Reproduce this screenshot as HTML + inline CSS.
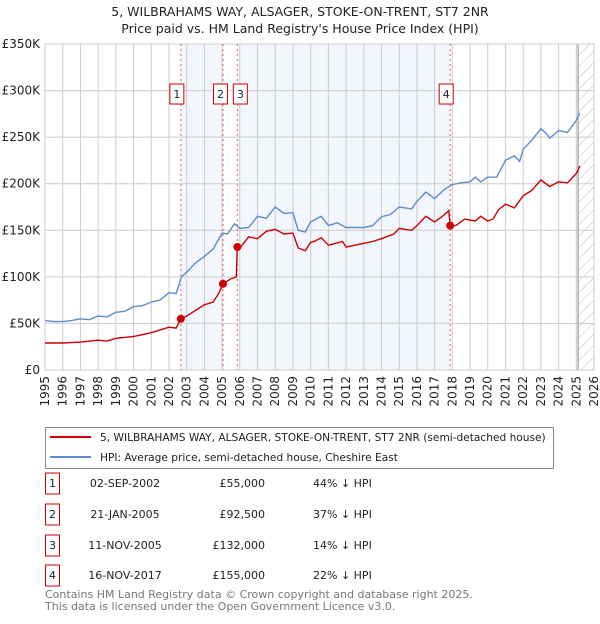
<!DOCTYPE html>
<html><head><meta charset="utf-8">
<style>
body{margin:0;background:#fff;font-family:"DejaVu Sans","Liberation Sans",sans-serif;}
svg text{font-family:"DejaVu Sans","Liberation Sans",sans-serif;}
</style></head>
<body>
<svg id="chart" width="600" height="620" xmlns="http://www.w3.org/2000/svg">
<defs>
<pattern id="hatch" patternUnits="userSpaceOnUse" width="8" height="8" patternTransform="rotate(45)">
<line x1="0" y1="0" x2="0" y2="8" stroke="#bbb" stroke-width="1"/>
</pattern>
</defs>
<text x="300" y="16" font-size="12.5" text-anchor="middle" fill="#222">5, WILBRAHAMS WAY, ALSAGER, STOKE-ON-TRENT, ST7 2NR</text>
<text x="300" y="33" font-size="12.5" text-anchor="middle" fill="#222">Price paid vs. HM Land Registry's House Price Index (HPI)</text>
<g id="plot"></g>
<g>
<rect x="45.5" y="427.5" width="508" height="41" fill="#fff" stroke="#888"/>
<line x1="50" y1="437" x2="91" y2="437" stroke="#cc0000" stroke-width="2"/>
<text x="100" y="441" font-size="10.6" fill="#222">5, WILBRAHAMS WAY, ALSAGER, STOKE-ON-TRENT, ST7 2NR (semi-detached house)</text>
<line x1="50" y1="457" x2="91" y2="457" stroke="#5b8ccf" stroke-width="2"/>
<text x="100" y="461" font-size="10.6" fill="#222">HPI: Average price, semi-detached house, Cheshire East</text>
</g>
<g id="table"></g>
<text x="45" y="598" font-size="11" fill="#777">Contains HM Land Registry data © Crown copyright and database right 2025.</text>
<text x="45" y="610" font-size="11" fill="#777">This data is licensed under the Open Government Licence v3.0.</text>
</svg>
<script>
const hpiYears=[1995,1995.5,1996,1996.5,1997,1997.5,1998,1998.5,1999,1999.5,2000,2000.5,2001,2001.5,2002,2002.4,2002.7,2003,2003.5,2004,2004.5,2005,2005.3,2005.7,2006,2006.5,2007,2007.5,2008,2008.5,2009,2009.3,2009.7,2010,2010.6,2011,2011.5,2012,2012.5,2013,2013.5,2014,2014.5,2015,2015.7,2016,2016.5,2017,2017.5,2018,2018.5,2019,2019.3,2019.6,2020,2020.5,2021,2021.5,2021.8,2022,2022.5,2023,2023.3,2023.5,2024,2024.5,2025,2025.2];
const hpiValues=[53000,52000,52000,53000,55000,54000,58000,57000,62000,63000,68000,69000,73000,75000,83000,82000,100000,105000,115000,122000,130000,147000,146000,157000,152000,153000,165000,163000,175000,168000,169000,150000,148000,159000,165000,155000,158000,153000,153000,153000,155000,164600,167000,175000,173000,181000,191000,184000,193000,199000,201000,202000,207000,202000,207000,207000,225000,230000,224000,237000,247000,259000,254000,249000,257000,255000,268000,276000];
const propYears=[1995,1996,1997,1998,1998.5,1999,2000,2001,2002,2002.4,2002.67,2003,2004,2004.5,2004.8,2005.05,2005.5,2005.8,2005.86,2006,2006.5,2007,2007.5,2008,2008.5,2009,2009.3,2009.7,2010,2010.2,2010.6,2011,2011.8,2012,2013,2013.5,2014,2014.7,2015,2015.7,2016,2016.5,2017,2017.5,2017.8,2017.88,2018.2,2018.7,2019.3,2019.6,2020,2020.3,2020.6,2021,2021.5,2022,2022.5,2023,2023.5,2024,2024.5,2025,2025.2];
const propValues=[29000,29000,30000,32000,31000,34000,36000,40000,46000,45000,55000,58000,70000,73000,82000,92500,98000,100000,132000,131000,143000,141000,149000,151000,146000,147000,131000,128000,137000,138000,142000,134000,138000,132000,136000,138000,141000,146000,152000,150000,155000,165000,159000,166000,171000,155000,155000,162000,160000,165000,160000,162000,172000,178000,174000,187000,193000,204000,197000,202000,201000,211000,219000];
const saleLabels=["1","2","3","4"];
const saleYears=[2002.67,2005.05,2005.86,2017.88];
const salePrices=[55000,92500,132000,155000];
const saleDates=["02-SEP-2002","21-JAN-2005","11-NOV-2005","16-NOV-2017"];
const salePriceText=["£55,000","£92,500","£132,000","£155,000"];
const saleHpiText=["44% ↓ HPI","37% ↓ HPI","14% ↓ HPI","22% ↓ HPI"];
const yTicks=[0,50000,100000,150000,200000,250000,300000,350000];
const yTickLabels=["£0","£50K","£100K","£150K","£200K","£250K","£300K","£350K"];
const xTicks=[1995,1996,1997,1998,1999,2000,2001,2002,2003,2004,2005,2006,2007,2008,2009,2010,2011,2012,2013,2014,2015,2016,2017,2018,2019,2020,2021,2022,2023,2024,2025,2026];

const NS="http://www.w3.org/2000/svg";
const L=45,R=594,T=44,B=370;
const xs=y=>L+(y-1995)/(2026-1995)*(R-L);
const ys=v=>B-v/350000*(B-T);
const plot=document.getElementById('plot');
function mk(tag,attrs,parent){const e=document.createElementNS(NS,tag);for(const k in attrs)e.setAttribute(k,attrs[k]);(parent||plot).appendChild(e);return e;}

[[0,1],[2,3]].forEach(([a,b])=>{
  const r=mk('rect',{x:xs(saleYears[a]),y:T,width:xs(saleYears[b])-xs(saleYears[a]),height:B-T,fill:'#eef2fc',opacity:0.7});
  
  
});
yTicks.forEach((v,i)=>{
  const g=mk('line',{x1:L,x2:R,y1:ys(v),y2:ys(v),stroke:'#cccccc','stroke-width':1});
  
  
  const t=mk('text',{x:L-5,y:ys(v)+4,'font-size':12,'text-anchor':'end',fill:'#222'});
  t.textContent=yTickLabels[i];
  
  
});
xTicks.forEach(yr=>{
  const g=mk('line',{x1:xs(yr),x2:xs(yr),y1:T,y2:B,stroke:'#cccccc','stroke-width':1});
  
  
  const t=mk('text',{x:0,y:0,'font-size':12,'text-anchor':'end',fill:'#222',transform:`translate(${xs(yr)+4},${B+6}) rotate(-90)`});
  t.textContent=yr;
  
  
});
const hx=xs(2025.1);
const h=mk('rect',{x:hx,y:T,width:R-hx,height:B-T,fill:'url(#hatch)'});


const hl=mk('line',{x1:hx,x2:hx,y1:T,y2:B,stroke:'#999','stroke-width':1.2});


mk('rect',{x:L,y:T,width:R-L,height:B-T,fill:'none',stroke:'#cccccc'});
saleYears.forEach(yr=>{
  const l=mk('line',{x1:xs(yr),x2:xs(yr),y1:T,y2:B,stroke:'#e06060','stroke-width':1,'stroke-dasharray':'2,3'});
  
  
});
const path=(xa,va)=>xa.map((x,i)=>(i?'L':'M')+xs(x).toFixed(1)+','+ys(va[i]).toFixed(1)).join('');
const hp=mk('path',{d:path(hpiYears,hpiValues),fill:'none',stroke:'#5b8ccf','stroke-width':1.4});


const pp=mk('path',{d:path(propYears,propValues),fill:'none',stroke:'#cc0000','stroke-width':1.4});


saleYears.forEach((yr,i)=>{
  const c=mk('circle',{cx:xs(yr),cy:ys(salePrices[i]),r:4,fill:'#cc0000'});
  
  
  const cx=xs(yr)-(i===1?2.5:i===2?-3:4);
  const b=mk('rect',{x:cx-7,y:84,width:14,height:20,fill:'#fff',stroke:'#cc0000'});
  
  
  const t=mk('text',{x:cx,y:98,'font-size':11,'text-anchor':'middle',fill:'#222'});
  t.textContent=saleLabels[i];
  
  
});
const tb=document.getElementById('table');
const rowY=[483,514,545,575];
saleLabels.forEach((lab,i)=>{
  const y=rowY[i];
  const b=mk('rect',{x:45.5,y:y-10,width:14,height:21,fill:'#fff',stroke:'#cc0000'},tb);
  
  
  const t0=mk('text',{x:52.5,y:y+4,'font-size':11,'text-anchor':'middle',fill:'#222'},tb);t0.textContent=lab;
  
  
  const t1=mk('text',{x:125,y:y+4,'font-size':11,'text-anchor':'middle',fill:'#222'},tb);t1.textContent=saleDates[i];
  
  
  const t2=mk('text',{x:265,y:y+4,'font-size':11,'text-anchor':'end',fill:'#222'},tb);t2.textContent=salePriceText[i];
  
  
  const t3=mk('text',{x:313,y:y+4,'font-size':11,fill:'#222'},tb);t3.textContent=saleHpiText[i];
  
  
});
</script>
</body></html>
